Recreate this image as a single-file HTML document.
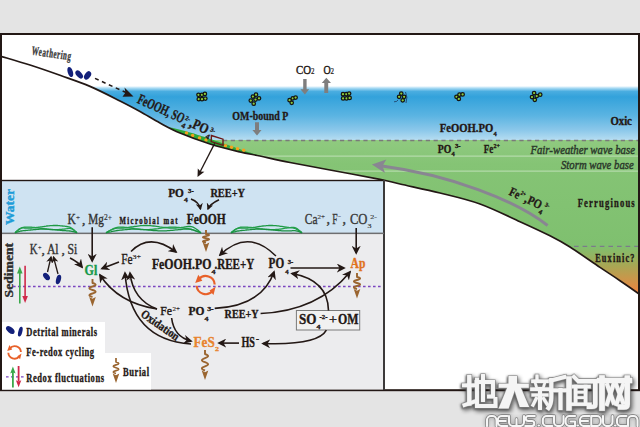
<!DOCTYPE html>
<html><head><meta charset="utf-8"><title>Diagram</title>
<style>html,body{margin:0;padding:0;background:#e4e4e4;width:640px;height:427px;overflow:hidden}svg{display:block}</style>
</head><body><svg width="640" height="427" viewBox="0 0 640 427" font-family='"Liberation Serif", serif'><defs>
<linearGradient id="water" x1="0" y1="86" x2="0" y2="140" gradientUnits="userSpaceOnUse">
<stop offset="0" stop-color="#ffffff"/>
<stop offset="0.04" stop-color="#a8daf3"/>
<stop offset="0.1" stop-color="#4aade0"/>
<stop offset="0.2" stop-color="#33a2db"/>
<stop offset="0.55" stop-color="#5bb4e2"/>
<stop offset="0.82" stop-color="#8cc8ea"/>
<stop offset="1" stop-color="#b6ddf1"/>
</linearGradient>
<linearGradient id="green" x1="0" y1="140" x2="0" y2="296" gradientUnits="userSpaceOnUse">
<stop offset="0" stop-color="#90ca80"/>
<stop offset="0.15" stop-color="#85c475"/>
<stop offset="0.68" stop-color="#7fc06f"/>
<stop offset="0.8" stop-color="#a6a855"/>
<stop offset="0.975" stop-color="#ec8540"/>
</linearGradient>
<marker id="ah" viewBox="0 0 10 10" refX="8" refY="5" markerWidth="7" markerHeight="7" markerUnits="userSpaceOnUse" orient="auto"><path d="M0,0 L10,5 L0,10 L3,5 z" fill="#231815"/></marker>
<marker id="ahb" viewBox="0 0 10 10" refX="8" refY="5" markerWidth="9" markerHeight="9" markerUnits="userSpaceOnUse" orient="auto"><path d="M0,0 L10,5 L0,10 L3,5 z" fill="#231815"/></marker>
<g id="cell"><circle r="1.6" fill="#a6d13a" stroke="#1a1a1a" stroke-width="0.9"/></g>
</defs>
<rect x="0" y="0" width="640" height="427" fill="#e4e4e4"/>
<rect x="0" y="33" width="640" height="358" fill="#ffffff"/>
<clipPath id="above"><path d="M-2,55.5 C-1.7,55.6 -5.3,54.4 0,56 C5.3,57.6 20.0,61.8 30,65 C40.0,68.2 50.0,71.7 60,75.3 C70.0,78.9 80.0,82.1 90,86.4 C100.0,90.7 111.7,96.8 120,101 C128.3,105.2 133.3,107.8 140,111.5 C146.7,115.2 153.3,119.4 160,123 C166.7,126.6 171.7,129.5 180,133 C188.3,136.5 200.0,140.8 210,144 C220.0,147.2 231.7,150.0 240,152 C248.3,154.0 251.7,154.2 260,156 C268.3,157.8 278.3,160.2 290,162.5 C301.7,164.8 315.0,167.2 330,170 C345.0,172.8 368.3,177.0 380,179.3 C391.7,181.6 390.0,181.7 400,184 C410.0,186.3 426.7,189.7 440,193 C453.3,196.3 466.7,199.2 480,204 C493.3,208.8 508.3,216.4 520,221.7 C531.7,227.0 541.7,231.6 550,235.8 C558.3,240.0 561.7,241.7 570,247 C578.3,252.3 591.7,261.8 600,267.4 C608.3,273.0 613.0,275.9 620,280.7 C627.0,285.5 638.3,293.4 642,296 L642,-10 L-2,-10 Z"/></clipPath>
<g clip-path="url(#above)">
<rect x="0" y="86" width="640" height="54" fill="url(#water)"/>
<rect x="0" y="140" width="640" height="160" fill="url(#green)"/>
<rect x="0" y="155.6" width="640" height="1" fill="#bfe0b6"/>
<rect x="0" y="170.6" width="640" height="1" fill="#bfe0b6"/>
</g>
<path d="M168,127.3 L170,127.4 L172,127.8 L174,128.3 L176,128.8 L178,129.3 L180,129.7 L182,130.3 L184,130.8 L186,131.3 L188,131.9 L190,132.4 L192,133.0 L194,133.6 L196,134.2 L198,134.9 L200,135.5 L202,136.2 L204,136.8 L206,137.5 L208,138.2 L210,138.9 L212,139.5 L214,140.2 L216,140.9 L218,141.6 L220,142.3 L222,143.0 L224,143.7 L226,144.3 L228,145.0 L230,145.7 L232,146.4 L234,147.1 L236,147.9 L238,148.6 L240,149.3 L242,150.0 L244,150.7 L246,151.4 L248,152.0 L250,152.6 L252,153.3 L254,153.9 L256,154.5 L258,155.2 L260,155.9 L260,156.0 L258,155.6 L256,155.2 L254,154.8 L252,154.5 L250,154.1 L248,153.7 L246,153.3 L244,152.9 L242,152.5 L240,152.0 L238,151.5 L236,151.0 L234,150.5 L232,150.1 L230,149.6 L228,149.0 L226,148.5 L224,148.0 L222,147.5 L220,146.9 L218,146.4 L216,145.8 L214,145.2 L212,144.6 L210,144.0 L208,143.4 L206,142.7 L204,142.0 L202,141.3 L200,140.6 L198,139.9 L196,139.2 L194,138.5 L192,137.7 L190,137.0 L188,136.2 L186,135.4 L184,134.6 L182,133.8 L180,133.0 L178,132.1 L176,131.3 L174,130.3 L172,129.4 L170,128.4 L168,127.3 Z" fill="#2ea83a"/>
<circle cx="186.5" cy="133.0" r="1.75" fill="#f5a01e"/>
<circle cx="192.6" cy="135.4" r="1.75" fill="#f5a01e"/>
<circle cx="199.5" cy="137.9" r="1.75" fill="#f5a01e"/>
<circle cx="206" cy="140.1" r="1.75" fill="#f5a01e"/>
<circle cx="225.5" cy="145.8" r="1.75" fill="#f5a01e"/>
<circle cx="231.5" cy="147.3" r="1.75" fill="#f5a01e"/>
<circle cx="237.5" cy="148.8" r="1.75" fill="#f5a01e"/>
<circle cx="243.7" cy="150.2" r="1.75" fill="#f5a01e"/>
<line x1="223" y1="140.5" x2="638" y2="140.5" stroke="#7a7a7a" stroke-width="1.3" stroke-dasharray="4.2,3.6"/>
<line x1="574" y1="246.3" x2="638" y2="246.3" stroke="#7b7b8a" stroke-width="1.2" stroke-dasharray="4.6,4"/>
<path d="M-2,55.5 C-1.7,55.6 -5.3,54.4 0,56 C5.3,57.6 20.0,61.8 30,65 C40.0,68.2 50.0,71.7 60,75.3 C70.0,78.9 80.0,82.1 90,86.4 C100.0,90.7 111.7,96.8 120,101 C128.3,105.2 133.3,107.8 140,111.5 C146.7,115.2 153.3,119.4 160,123 C166.7,126.6 171.7,129.5 180,133 C188.3,136.5 200.0,140.8 210,144 C220.0,147.2 231.7,150.0 240,152 C248.3,154.0 251.7,154.2 260,156 C268.3,157.8 278.3,160.2 290,162.5 C301.7,164.8 315.0,167.2 330,170 C345.0,172.8 368.3,177.0 380,179.3 C391.7,181.6 390.0,181.7 400,184 C410.0,186.3 426.7,189.7 440,193 C453.3,196.3 466.7,199.2 480,204 C493.3,208.8 508.3,216.4 520,221.7 C531.7,227.0 541.7,231.6 550,235.8 C558.3,240.0 561.7,241.7 570,247 C578.3,252.3 591.7,261.8 600,267.4 C608.3,273.0 613.0,275.9 620,280.7 C627.0,285.5 638.3,293.4 642,296" fill="none" stroke="#231815" stroke-width="1.7"/>
<rect x="0" y="33" width="640" height="2" fill="#231815"/>
<rect x="0" y="33" width="2" height="358" fill="#231815"/>
<rect x="638" y="33" width="2" height="358" fill="#231815"/>
<rect x="0" y="389.2" width="640" height="2" fill="#231815"/>
<g transform="rotate(8.2 31.3 54.6)"><g transform="translate(31.3,54.6) scale(0.56,1)"><text x="0" y="0" font-size="12.5" font-weight="bold" fill="#3a3a3a" stroke="#3a3a3a" stroke-width="0.35" textLength="70.54" lengthAdjust="spacing">Weathering</text></g></g>
<ellipse cx="70.3" cy="72" rx="2.6" ry="5.3" transform="rotate(-18 70.3 72)" fill="#13207a"/>
<ellipse cx="79.2" cy="74.5" rx="2.7" ry="4.8" transform="rotate(-42 79.2 74.5)" fill="#13207a"/>
<ellipse cx="87.6" cy="75.4" rx="2.9" ry="4.6" transform="rotate(35 87.6 75.4)" fill="#13207a"/>
<line x1="95" y1="78.4" x2="126" y2="92.5" stroke="#231815" stroke-width="1.5" stroke-dasharray="4,3.6"/>
<path d="M133.5,96.5 L122.5,96.8 L125.5,92.5 L124.5,87.5 Z" fill="#231815"/>
<g transform="rotate(24.5 136.5 102.5)"><text x="136.5" y="102.5" font-size="14.5" font-weight="bold" fill="#231815" textLength="50" lengthAdjust="spacingAndGlyphs" text-anchor="start"  stroke="#231815" stroke-width="0.35">FeOOH, SO</text><text x="187" y="106.5" font-size="7" font-weight="bold" fill="#231815" textLength="3.8" lengthAdjust="spacingAndGlyphs" text-anchor="start"  stroke="#231815" stroke-width="0.3">4</text><text x="187.5" y="98" font-size="6.5" font-weight="bold" fill="#231815" textLength="5" lengthAdjust="spacingAndGlyphs" text-anchor="start"  stroke="#231815" stroke-width="0.3">2-</text><text x="193.5" y="102.5" font-size="14.5" font-weight="bold" fill="#231815" text-anchor="start"  stroke="#231815" stroke-width="0.35">,</text><text x="197" y="102.5" font-size="14.5" font-weight="bold" fill="#231815" textLength="16" lengthAdjust="spacingAndGlyphs" text-anchor="start"  stroke="#231815" stroke-width="0.35">PO</text><text x="213.5" y="106.5" font-size="7" font-weight="bold" fill="#231815" textLength="3.8" lengthAdjust="spacingAndGlyphs" text-anchor="start"  stroke="#231815" stroke-width="0.3">4</text><text x="215" y="98" font-size="6.5" font-weight="bold" fill="#231815" textLength="5" lengthAdjust="spacingAndGlyphs" text-anchor="start"  stroke="#231815" stroke-width="0.3">3-</text></g>
<circle cx="198.5" cy="94.75" r="1.75" fill="#8ccd3c" stroke="#141414" stroke-width="1.25"/><circle cx="201.9" cy="94.75" r="1.75" fill="#8ccd3c" stroke="#141414" stroke-width="1.25"/><circle cx="204.9" cy="93.9" r="1.75" fill="#8ccd3c" stroke="#141414" stroke-width="1.25"/><circle cx="198.8" cy="99.2" r="1.75" fill="#8ccd3c" stroke="#141414" stroke-width="1.25"/><circle cx="202" cy="99.2" r="1.75" fill="#8ccd3c" stroke="#141414" stroke-width="1.25"/><circle cx="205.3" cy="98.6" r="1.75" fill="#8ccd3c" stroke="#141414" stroke-width="1.25"/>
<circle cx="256" cy="94.7" r="1.75" fill="#8ccd3c" stroke="#141414" stroke-width="1.25"/><circle cx="252.9" cy="96.5" r="1.75" fill="#8ccd3c" stroke="#141414" stroke-width="1.25"/><circle cx="259" cy="98.3" r="1.75" fill="#8ccd3c" stroke="#141414" stroke-width="1.25"/><circle cx="255.5" cy="99.6" r="1.75" fill="#8ccd3c" stroke="#141414" stroke-width="1.25"/><circle cx="250.8" cy="100.6" r="1.75" fill="#8ccd3c" stroke="#141414" stroke-width="1.25"/><circle cx="253.7" cy="103.7" r="1.75" fill="#8ccd3c" stroke="#141414" stroke-width="1.25"/>
<circle cx="289.6" cy="100.2" r="1.75" fill="#8ccd3c" stroke="#141414" stroke-width="1.25"/><circle cx="292.8" cy="98.3" r="1.75" fill="#8ccd3c" stroke="#141414" stroke-width="1.25"/><circle cx="295.6" cy="97.6" r="1.75" fill="#8ccd3c" stroke="#141414" stroke-width="1.25"/><circle cx="291.7" cy="102.75" r="1.75" fill="#8ccd3c" stroke="#141414" stroke-width="1.25"/>
<circle cx="343" cy="94.2" r="1.75" fill="#8ccd3c" stroke="#141414" stroke-width="1.25"/><circle cx="346.3" cy="94.2" r="1.75" fill="#8ccd3c" stroke="#141414" stroke-width="1.25"/><circle cx="349.1" cy="93.5" r="1.75" fill="#8ccd3c" stroke="#141414" stroke-width="1.25"/><circle cx="343.1" cy="98.4" r="1.75" fill="#8ccd3c" stroke="#141414" stroke-width="1.25"/><circle cx="346.5" cy="98.4" r="1.75" fill="#8ccd3c" stroke="#141414" stroke-width="1.25"/><circle cx="349.6" cy="97.9" r="1.75" fill="#8ccd3c" stroke="#141414" stroke-width="1.25"/>
<circle cx="401.25" cy="93.5" r="1.75" fill="#8ccd3c" stroke="#141414" stroke-width="1.25"/><circle cx="399.1" cy="96.8" r="1.75" fill="#8ccd3c" stroke="#141414" stroke-width="1.25"/><circle cx="404.1" cy="96.8" r="1.75" fill="#8ccd3c" stroke="#141414" stroke-width="1.25"/><circle cx="402.7" cy="100.3" r="1.75" fill="#8ccd3c" stroke="#141414" stroke-width="1.25"/>
<path d="M394,101.8 Q397,102 398,100 M405.5,92 Q408,97 406,103" fill="none" stroke="#1a2a4a" stroke-width="0.7"/>
<circle cx="456.5" cy="96.8" r="1.75" fill="#8ccd3c" stroke="#141414" stroke-width="1.25"/><circle cx="459.5" cy="94.7" r="1.75" fill="#8ccd3c" stroke="#141414" stroke-width="1.25"/><circle cx="462.6" cy="94.4" r="1.75" fill="#8ccd3c" stroke="#141414" stroke-width="1.25"/><circle cx="458.8" cy="98.9" r="1.75" fill="#8ccd3c" stroke="#141414" stroke-width="1.25"/>
<circle cx="534.1" cy="93" r="1.75" fill="#8ccd3c" stroke="#141414" stroke-width="1.25"/><circle cx="532" cy="97" r="1.75" fill="#8ccd3c" stroke="#141414" stroke-width="1.25"/><circle cx="536.7" cy="96.1" r="1.75" fill="#8ccd3c" stroke="#141414" stroke-width="1.25"/><circle cx="540.2" cy="94.7" r="1.75" fill="#8ccd3c" stroke="#141414" stroke-width="1.25"/><circle cx="534.8" cy="99.8" r="1.75" fill="#8ccd3c" stroke="#141414" stroke-width="1.25"/>
<text x="296" y="73.8" font-size="13" font-weight="normal" fill="#231815" textLength="15" lengthAdjust="spacingAndGlyphs" text-anchor="start"  stroke="#231815" stroke-width="0.4">CO</text>
<text x="311" y="74.2" font-size="7.5" font-weight="normal" fill="#231815" textLength="3.5" lengthAdjust="spacingAndGlyphs" text-anchor="start"  stroke="#231815" stroke-width="0.15">2</text>
<text x="323.4" y="73.8" font-size="13" font-weight="normal" fill="#231815" textLength="7.2" lengthAdjust="spacingAndGlyphs" text-anchor="start"  stroke="#231815" stroke-width="0.4">O</text>
<text x="330.6" y="74.2" font-size="7.5" font-weight="normal" fill="#231815" textLength="3.5" lengthAdjust="spacingAndGlyphs" text-anchor="start"  stroke="#231815" stroke-width="0.15">2</text>
<path d="M303.2,79 L306.6,79 L306.6,89.3 L309.2,89.3 L304.9,94.4 L300.4,89.3 L303.2,89.3 Z" fill="#7e7e7e"/>
<path d="M326.3,77.8 L331,83.1 L328.2,83.1 L328.2,93 L324.3,93 L324.3,83.1 L321.8,83.1 Z" fill="#7e7e7e"/>
<text x="232.3" y="119.7" font-size="13" font-weight="bold" fill="#231815" textLength="56" lengthAdjust="spacingAndGlyphs" text-anchor="start"  stroke="#231815" stroke-width="0.35">OM-bound P</text>
<path d="M255,122.3 L259,122.3 L259,130 L261.5,130 L257,135.5 L252.4,130 L255,130 Z" fill="#7e7e7e"/>
<path d="M211.4,135.5 L223,139.2 L223,145.3 L211.2,141.6 Z" fill="none" stroke="#6b1818" stroke-width="1.4"/>
<line x1="214.7" y1="143.4" x2="200" y2="172" stroke="#231815" stroke-width="1.3"/>
<path d="M197.5,177 L197.8,168.6 L200.5,171.5 L204.4,171.8 Z" fill="#231815"/>
<text x="439.75" y="131.6" font-size="12.2" font-weight="bold" fill="#231815" textLength="53.4" lengthAdjust="spacingAndGlyphs" text-anchor="start"  stroke="#231815" stroke-width="0.35">FeOOH.PO</text>
<text x="493.5" y="135.6" font-size="6.5" font-weight="bold" fill="#231815" text-anchor="start"  stroke="#231815" stroke-width="0.3">4</text>
<text x="437.75" y="152.5" font-size="12.2" font-weight="bold" fill="#231815" textLength="13.5" lengthAdjust="spacingAndGlyphs" text-anchor="start"  stroke="#231815" stroke-width="0.35">PO</text>
<text x="451.5" y="156.2" font-size="6.5" font-weight="bold" fill="#231815" text-anchor="start"  stroke="#231815" stroke-width="0.3">4</text>
<text x="455" y="148" font-size="6" font-weight="bold" fill="#231815" textLength="5.6" lengthAdjust="spacingAndGlyphs" text-anchor="start"  stroke="#231815" stroke-width="0.3">3-</text>
<text x="483.75" y="152.5" font-size="12.2" font-weight="bold" fill="#231815" textLength="9.5" lengthAdjust="spacingAndGlyphs" text-anchor="start"  stroke="#231815" stroke-width="0.35">Fe</text>
<text x="493.5" y="148.2" font-size="6" font-weight="bold" fill="#231815" textLength="6.5" lengthAdjust="spacingAndGlyphs" text-anchor="start"  stroke="#231815" stroke-width="0.3">2+</text>
<text x="610.4" y="125.3" font-size="12.3" font-weight="bold" fill="#231815" textLength="21.5" lengthAdjust="spacingAndGlyphs" text-anchor="start"  stroke="#231815" stroke-width="0.35">Oxic</text>
<text x="530.4" y="154.2" font-size="13.2" font-weight="normal" fill="#2b382b" font-style="italic" textLength="104.6" lengthAdjust="spacingAndGlyphs" text-anchor="start"  stroke="#2b382b" stroke-width="0.45">Fair-weather wave base</text>
<text x="561" y="169.4" font-size="13.2" font-weight="normal" fill="#2b382b" font-style="italic" textLength="72.7" lengthAdjust="spacingAndGlyphs" text-anchor="start"  stroke="#2b382b" stroke-width="0.45">Storm wave base</text>
<g transform="translate(577.7,206.7) scale(0.7,1)"><text x="0" y="0" font-size="12.3" font-weight="bold" fill="#231815" stroke="#231815" stroke-width="0.35" textLength="81.43" lengthAdjust="spacing">Ferruginous</text></g>
<g transform="translate(595.2,261.8) scale(0.7,1)"><text x="0" y="0" font-size="11.8" font-weight="bold" fill="#231815" stroke="#231815" stroke-width="0.35" textLength="56.14" lengthAdjust="spacing">Euxinic?</text></g>
<path d="M547.6,225.5 C515,200 450,175 382,166" fill="none" stroke="#898592" stroke-width="2.9"/>
<path d="M371.9,164.4 L386.3,159.4 L382.5,166 L385,173.1 Z" fill="#898592"/>
<g transform="rotate(25 508.3 194.6)"><text x="508.3" y="194.6" font-size="12.5" font-weight="bold" fill="#231815" textLength="10.5" lengthAdjust="spacingAndGlyphs" text-anchor="start"  stroke="#231815" stroke-width="0.35">Fe</text><text x="519" y="189.2" font-size="6" font-weight="bold" fill="#231815" textLength="5" lengthAdjust="spacingAndGlyphs" text-anchor="start"  stroke="#231815" stroke-width="0.3">2+</text><text x="525" y="194.6" font-size="12.5" font-weight="bold" fill="#231815" text-anchor="start"  stroke="#231815" stroke-width="0.35">,</text><text x="528.3" y="194.6" font-size="12.5" font-weight="bold" fill="#231815" textLength="14.6" lengthAdjust="spacingAndGlyphs" text-anchor="start"  stroke="#231815" stroke-width="0.35">PO</text><text x="543" y="199" font-size="6.5" font-weight="bold" fill="#231815" textLength="3.4" lengthAdjust="spacingAndGlyphs" text-anchor="start"  stroke="#231815" stroke-width="0.3">4</text><text x="546" y="189.5" font-size="6" font-weight="bold" fill="#231815" textLength="4.6" lengthAdjust="spacingAndGlyphs" text-anchor="start"  stroke="#231815" stroke-width="0.3">3-</text></g>
<rect x="2" y="180.5" width="382" height="53" fill="#cfe3f2"/>
<rect x="2" y="233.5" width="382" height="156" fill="#ececee"/>
<rect x="0" y="179.8" width="384" height="1.4" fill="#231815"/>
<rect x="383" y="180" width="2" height="210" fill="#3c3a3a"/>
<rect x="2" y="232.6" width="382" height="1.5" fill="#6e6e70"/>
<polyline points="15.0,232.8 16.0,231.7 17.1,230.7 18.1,229.9 19.1,229.1 20.2,228.6 21.2,228.2 22.2,227.9 23.3,227.9 24.3,228.0 25.3,228.0 26.4,228.1 27.4,228.1 28.4,228.1 29.5,228.1 30.5,228.1 31.5,228.0 32.6,227.9 33.6,227.9 34.6,227.8 35.7,227.6 36.7,227.5 37.7,227.4 38.8,227.2 39.8,227.1 40.8,226.9 41.9,226.8 42.9,226.6 43.9,226.5 45.0,226.3 46.0,226.2 47.0,226.0 48.1,225.9 49.1,225.8 50.1,225.7 51.2,225.6 52.2,225.6 53.2,225.5 54.3,225.5 55.3,225.5 56.3,225.5 57.4,225.5 58.4,225.6 59.4,225.7 60.5,225.8 61.5,225.9 62.5,226.0 63.6,226.1 64.6,226.2 65.6,226.4 66.7,226.5 67.7,226.7 68.7,226.9 69.8,227.2 70.8,227.7 71.8,228.4 72.9,229.2 73.9,230.0 74.9,230.9 76.0,231.9 77.0,232.8" fill="none" stroke="#1e9a46" stroke-width="1.3"/><polyline points="15.0,232.8 16.0,232.0 17.1,231.1 18.1,230.2 19.1,229.4 20.2,228.7 21.2,228.1 22.2,227.6 23.3,227.3 24.3,227.2 25.3,227.2 26.4,227.1 27.4,227.1 28.4,227.1 29.5,227.1 30.5,227.1 31.5,227.2 32.6,227.3 33.6,227.3 34.6,227.4 35.7,227.6 36.7,227.7 37.7,227.8 38.8,228.0 39.8,228.1 40.8,228.3 41.9,228.4 42.9,228.6 43.9,228.7 45.0,228.9 46.0,229.0 47.0,229.2 48.1,229.3 49.1,229.4 50.1,229.5 51.2,229.6 52.2,229.6 53.2,229.7 54.3,229.7 55.3,229.7 56.3,229.7 57.4,229.7 58.4,229.6 59.4,229.5 60.5,229.4 61.5,229.3 62.5,229.2 63.6,229.1 64.6,229.0 65.6,228.8 66.7,228.7 67.7,228.5 68.7,228.4 69.8,228.4 70.8,228.5 71.8,228.9 72.9,229.4 73.9,230.0 74.9,230.9 76.0,231.8 77.0,232.8" fill="none" stroke="#23a04a" stroke-width="1.3"/><polyline points="15.0,232.8 16.0,232.4 17.1,232.1 18.1,231.8 19.1,231.5 20.2,231.2 21.2,231.0 22.2,230.8 23.3,230.7 24.3,230.6 25.3,230.5 26.4,230.4 27.4,230.3 28.4,230.2 29.5,230.1 30.5,230.0 31.5,229.9 32.6,229.8 33.6,229.7 34.6,229.6 35.7,229.5 36.7,229.4 37.7,229.3 38.8,229.3 39.8,229.2 40.8,229.2 41.9,229.1 42.9,229.1 43.9,229.1 45.0,229.1 46.0,229.1 47.0,229.2 48.1,229.2 49.1,229.3 50.1,229.3 51.2,229.4 52.2,229.5 53.2,229.6 54.3,229.7 55.3,229.8 56.3,229.9 57.4,230.0 58.4,230.1 59.4,230.2 60.5,230.3 61.5,230.4 62.5,230.5 63.6,230.6 64.6,230.7 65.6,230.7 66.7,230.8 67.7,230.8 68.7,230.9 69.8,231.0 70.8,231.1 71.8,231.3 72.9,231.5 73.9,231.8 74.9,232.1 76.0,232.4 77.0,232.8" fill="none" stroke="#1a9040" stroke-width="1.3"/>
<polyline points="106.0,232.8 107.6,231.7 109.2,230.8 110.8,230.0 112.3,229.3 113.9,228.8 115.5,228.4 117.1,228.2 118.7,228.1 120.2,228.1 121.8,228.0 123.4,228.0 125.0,227.8 126.6,227.7 128.2,227.5 129.8,227.2 131.3,227.0 132.9,226.8 134.5,226.5 136.1,226.3 137.7,226.1 139.2,225.9 140.8,225.7 142.4,225.6 144.0,225.5 145.6,225.5 147.2,225.5 148.8,225.6 150.3,225.7 151.9,225.8 153.5,226.0 155.1,226.2 156.7,226.4 158.2,226.6 159.8,226.9 161.4,227.1 163.0,227.3 164.6,227.5 166.2,227.7 167.8,227.9 169.3,228.0 170.9,228.1 172.5,228.1 174.1,228.1 175.7,228.0 177.2,227.9 178.8,227.8 180.4,227.6 182.0,227.4 183.6,227.2 185.2,226.9 186.8,226.7 188.3,226.5 189.9,226.5 191.5,226.7 193.1,227.2 194.7,228.0 196.2,229.0 197.8,230.1 199.4,231.4 201.0,232.8" fill="none" stroke="#1e9a46" stroke-width="1.3"/><polyline points="106.0,232.8 107.6,231.9 109.2,231.0 110.8,230.1 112.3,229.2 113.9,228.4 115.5,227.8 117.1,227.3 118.7,227.1 120.2,227.1 121.8,227.2 123.4,227.2 125.0,227.4 126.6,227.5 128.2,227.7 129.8,228.0 131.3,228.2 132.9,228.4 134.5,228.7 136.1,228.9 137.7,229.1 139.2,229.3 140.8,229.5 142.4,229.6 144.0,229.7 145.6,229.7 147.2,229.7 148.8,229.6 150.3,229.5 151.9,229.4 153.5,229.2 155.1,229.0 156.7,228.8 158.2,228.6 159.8,228.3 161.4,228.1 163.0,227.9 164.6,227.7 166.2,227.5 167.8,227.3 169.3,227.2 170.9,227.1 172.5,227.1 174.1,227.1 175.7,227.2 177.2,227.3 178.8,227.4 180.4,227.6 182.0,227.8 183.6,228.0 185.2,228.3 186.8,228.5 188.3,228.7 189.9,229.1 191.5,229.5 193.1,230.0 194.7,230.6 196.2,231.1 197.8,231.7 199.4,232.2 201.0,232.8" fill="none" stroke="#23a04a" stroke-width="1.3"/><polyline points="106.0,232.8 107.6,232.4 109.2,232.1 110.8,231.8 112.3,231.4 113.9,231.1 115.5,230.8 117.1,230.5 118.7,230.3 120.2,230.1 121.8,230.0 123.4,229.8 125.0,229.7 126.6,229.5 128.2,229.4 129.8,229.3 131.3,229.2 132.9,229.1 134.5,229.1 136.1,229.1 137.7,229.1 139.2,229.2 140.8,229.3 142.4,229.4 144.0,229.6 145.6,229.7 147.2,229.9 148.8,230.0 150.3,230.2 151.9,230.4 153.5,230.5 155.1,230.6 156.7,230.7 158.2,230.8 159.8,230.9 161.4,230.9 163.0,230.9 164.6,230.8 166.2,230.8 167.8,230.7 169.3,230.6 170.9,230.4 172.5,230.3 174.1,230.1 175.7,229.9 177.2,229.8 178.8,229.6 180.4,229.5 182.0,229.3 183.6,229.2 185.2,229.2 186.8,229.1 188.3,229.1 189.9,229.2 191.5,229.5 193.1,229.9 194.7,230.4 196.2,231.0 197.8,231.6 199.4,232.2 201.0,232.8" fill="none" stroke="#1a9040" stroke-width="1.3"/>
<polyline points="231.0,232.8 232.2,231.7 233.4,230.7 234.6,229.9 235.7,229.2 236.9,228.6 238.1,228.3 239.3,228.0 240.5,228.0 241.7,228.0 242.8,228.1 244.0,228.1 245.2,228.1 246.4,228.1 247.6,228.0 248.8,227.9 249.9,227.8 251.1,227.7 252.3,227.6 253.5,227.4 254.7,227.3 255.8,227.1 257.0,226.9 258.2,226.7 259.4,226.5 260.6,226.4 261.8,226.2 262.9,226.0 264.1,225.9 265.3,225.8 266.5,225.7 267.7,225.6 268.9,225.5 270.1,225.5 271.2,225.5 272.4,225.5 273.6,225.6 274.8,225.6 276.0,225.7 277.1,225.8 278.3,225.9 279.5,226.1 280.7,226.3 281.9,226.4 283.1,226.6 284.2,226.8 285.4,227.0 286.6,227.1 287.8,227.3 289.0,227.5 290.2,227.6 291.4,227.7 292.5,227.9 293.7,228.1 294.9,228.5 296.1,229.0 297.3,229.6 298.4,230.3 299.6,231.1 300.8,231.9 302.0,232.8" fill="none" stroke="#1e9a46" stroke-width="1.3"/><polyline points="231.0,232.8 232.2,231.9 233.4,231.1 234.6,230.2 235.7,229.3 236.9,228.6 238.1,228.0 239.3,227.5 240.5,227.2 241.7,227.2 242.8,227.1 244.0,227.1 245.2,227.1 246.4,227.1 247.6,227.2 248.8,227.3 249.9,227.4 251.1,227.5 252.3,227.6 253.5,227.8 254.7,227.9 255.8,228.1 257.0,228.3 258.2,228.5 259.4,228.7 260.6,228.8 261.8,229.0 262.9,229.2 264.1,229.3 265.3,229.4 266.5,229.5 267.7,229.6 268.9,229.7 270.1,229.7 271.2,229.7 272.4,229.7 273.6,229.6 274.8,229.6 276.0,229.5 277.1,229.4 278.3,229.3 279.5,229.1 280.7,229.0 281.9,228.8 283.1,228.6 284.2,228.4 285.4,228.2 286.6,228.1 287.8,227.9 289.0,227.7 290.2,227.6 291.4,227.5 292.5,227.4 293.7,227.4 294.9,227.7 296.1,228.2 297.3,228.9 298.4,229.8 299.6,230.7 300.8,231.8 302.0,232.8" fill="none" stroke="#23a04a" stroke-width="1.3"/><polyline points="231.0,232.8 232.2,232.4 233.4,232.1 234.6,231.8 235.7,231.5 236.9,231.2 238.1,231.0 239.3,230.8 240.5,230.6 241.7,230.5 242.8,230.4 244.0,230.3 245.2,230.2 246.4,230.0 247.6,229.9 248.8,229.8 249.9,229.7 251.1,229.5 252.3,229.4 253.5,229.4 254.7,229.3 255.8,229.2 257.0,229.2 258.2,229.1 259.4,229.1 260.6,229.1 261.8,229.1 262.9,229.2 264.1,229.2 265.3,229.3 266.5,229.4 267.7,229.4 268.9,229.5 270.1,229.7 271.2,229.8 272.4,229.9 273.6,230.0 274.8,230.2 276.0,230.3 277.1,230.4 278.3,230.5 279.5,230.6 280.7,230.7 281.9,230.8 283.1,230.8 284.2,230.9 285.4,230.9 286.6,230.9 287.8,230.9 289.0,230.9 290.2,230.8 291.4,230.8 292.5,230.7 293.7,230.7 294.9,230.7 296.1,230.9 297.3,231.1 298.4,231.4 299.6,231.8 300.8,232.3 302.0,232.8" fill="none" stroke="#1a9040" stroke-width="1.3"/>
<g transform="rotate(-90 13.6 225)"><text x="13.6" y="225" font-size="12" font-weight="bold" fill="#1e9cd8" textLength="36" lengthAdjust="spacingAndGlyphs" text-anchor="start"  stroke="#1e9cd8" stroke-width="0.35">Water</text></g>
<g transform="rotate(-90 12.6 297.4)"><text x="12.6" y="297.4" font-size="11.5" font-weight="bold" fill="#2d2d2d" textLength="54.5" lengthAdjust="spacingAndGlyphs" text-anchor="start"  stroke="#2d2d2d" stroke-width="0.35">Sediment</text></g>
<text x="67.5" y="224.1" font-size="15" font-weight="normal" fill="#333" textLength="8.3" lengthAdjust="spacingAndGlyphs" text-anchor="start"  stroke="#333" stroke-width="0.4">K</text>
<text x="76" y="219.5" font-size="7" font-weight="normal" fill="#333" textLength="4" lengthAdjust="spacingAndGlyphs" text-anchor="start"  stroke="#333" stroke-width="0.15">+</text>
<text x="82" y="224.1" font-size="13.5" font-weight="normal" fill="#333" text-anchor="start"  stroke="#333" stroke-width="0.4">,</text>
<text x="88.3" y="224.1" font-size="15" font-weight="normal" fill="#333" textLength="15.6" lengthAdjust="spacingAndGlyphs" text-anchor="start"  stroke="#333" stroke-width="0.4">Mg</text>
<text x="104" y="219.8" font-size="7.5" font-weight="normal" fill="#333" textLength="8" lengthAdjust="spacingAndGlyphs" text-anchor="start"  stroke="#333" stroke-width="0.15">2+</text>
<g transform="translate(119.5,223.5) scale(0.7,1)"><text x="0" y="0" font-size="9.7" font-weight="bold" fill="#231815" stroke="#231815" stroke-width="0.35" textLength="82.86" lengthAdjust="spacing">Microbial mat</text></g>
<text x="168.2" y="196.6" font-size="12.4" font-weight="bold" fill="#231815" textLength="15.7" lengthAdjust="spacingAndGlyphs" text-anchor="start"  stroke="#231815" stroke-width="0.35">PO</text>
<text x="184" y="202.2" font-size="6.5" font-weight="bold" fill="#231815" textLength="3.8" lengthAdjust="spacingAndGlyphs" text-anchor="start"  stroke="#231815" stroke-width="0.3">4</text>
<text x="188.1" y="192.9" font-size="6" font-weight="bold" fill="#231815" textLength="5.6" lengthAdjust="spacingAndGlyphs" text-anchor="start"  stroke="#231815" stroke-width="0.3">3-</text>
<text x="210.4" y="196.6" font-size="12.4" font-weight="bold" fill="#231815" textLength="34.7" lengthAdjust="spacingAndGlyphs" text-anchor="start"  stroke="#231815" stroke-width="0.35">REE+Y</text>
<text x="186.7" y="224.3" font-size="13.7" font-weight="bold" fill="#231815" textLength="39.1" lengthAdjust="spacingAndGlyphs" text-anchor="start"  stroke="#231815" stroke-width="0.35">FeOOH</text>
<path d="M191,199 Q199,202 200.5,209" fill="none" stroke="#231815" stroke-width="1.6" marker-end="url(#ah)"/>
<path d="M219,199.7 Q210,204 208,209" fill="none" stroke="#231815" stroke-width="1.6" marker-end="url(#ah)"/>
<text x="304.8" y="224" font-size="15.6" font-weight="normal" fill="#3a3a3a" textLength="12.7" lengthAdjust="spacingAndGlyphs" text-anchor="start"  stroke="#3a3a3a" stroke-width="0.4">Ca</text>
<text x="317.5" y="219.3" font-size="6.5" font-weight="normal" fill="#3a3a3a" textLength="7.5" lengthAdjust="spacingAndGlyphs" text-anchor="start"  stroke="#3a3a3a" stroke-width="0.15">2+</text>
<text x="326.5" y="224" font-size="14" font-weight="normal" fill="#3a3a3a" text-anchor="start"  stroke="#3a3a3a" stroke-width="0.4">,</text>
<text x="332.3" y="224" font-size="15.6" font-weight="normal" fill="#3a3a3a" textLength="5.3" lengthAdjust="spacingAndGlyphs" text-anchor="start"  stroke="#3a3a3a" stroke-width="0.4">F</text>
<text x="338" y="218.3" font-size="7" font-weight="normal" fill="#3a3a3a" textLength="3" lengthAdjust="spacingAndGlyphs" text-anchor="start"  stroke="#3a3a3a" stroke-width="0.15">-</text>
<text x="342.5" y="224" font-size="14" font-weight="normal" fill="#3a3a3a" text-anchor="start"  stroke="#3a3a3a" stroke-width="0.4">,</text>
<text x="349.9" y="224" font-size="15.6" font-weight="normal" fill="#3a3a3a" textLength="17.5" lengthAdjust="spacingAndGlyphs" text-anchor="start"  stroke="#3a3a3a" stroke-width="0.4">CO</text>
<text x="367.5" y="228.2" font-size="7" font-weight="normal" fill="#3a3a3a" textLength="4" lengthAdjust="spacingAndGlyphs" text-anchor="start"  stroke="#3a3a3a" stroke-width="0.15">3</text>
<text x="370.2" y="219.3" font-size="6.5" font-weight="normal" fill="#3a3a3a" textLength="6.7" lengthAdjust="spacingAndGlyphs" text-anchor="start"  stroke="#3a3a3a" stroke-width="0.15">2-</text>
<text x="29.7" y="254.2" font-size="15" font-weight="normal" fill="#333" textLength="7.8" lengthAdjust="spacingAndGlyphs" text-anchor="start"  stroke="#333" stroke-width="0.4">K</text>
<text x="38" y="249.5" font-size="7" font-weight="normal" fill="#333" textLength="3.5" lengthAdjust="spacingAndGlyphs" text-anchor="start"  stroke="#333" stroke-width="0.15">+</text>
<text x="41.5" y="254.2" font-size="13.5" font-weight="normal" fill="#333" text-anchor="start"  stroke="#333" stroke-width="0.4">,</text>
<text x="46.9" y="254.2" font-size="15" font-weight="normal" fill="#333" textLength="11.7" lengthAdjust="spacingAndGlyphs" text-anchor="start"  stroke="#333" stroke-width="0.4">Al</text>
<text x="61.5" y="254.2" font-size="13.5" font-weight="normal" fill="#333" text-anchor="start"  stroke="#333" stroke-width="0.4">,</text>
<text x="67.5" y="254.2" font-size="15" font-weight="normal" fill="#333" textLength="9.8" lengthAdjust="spacingAndGlyphs" text-anchor="start"  stroke="#333" stroke-width="0.4">Si</text>
<text x="84.6" y="275" font-size="14.2" font-weight="bold" fill="#17994a" textLength="12.7" lengthAdjust="spacingAndGlyphs" text-anchor="start"  stroke="#17994a" stroke-width="0.35">Gl</text>
<text x="121.25" y="263.75" font-size="15" font-weight="normal" fill="#231815" textLength="11.3" lengthAdjust="spacingAndGlyphs" text-anchor="start"  stroke="#231815" stroke-width="0.4">Fe</text>
<text x="132.5" y="259.3" font-size="7" font-weight="normal" fill="#231815" textLength="8.5" lengthAdjust="spacingAndGlyphs" text-anchor="start"  stroke="#231815" stroke-width="0.15">3+</text>
<text x="151.9" y="268.75" font-size="14.3" font-weight="bold" fill="#231815" textLength="59.5" lengthAdjust="spacingAndGlyphs" text-anchor="start"  stroke="#231815" stroke-width="0.35">FeOOH.PO</text>
<text x="211.5" y="274" font-size="7" font-weight="bold" fill="#231815" textLength="4" lengthAdjust="spacingAndGlyphs" text-anchor="start"  stroke="#231815" stroke-width="0.3">4</text>
<text x="214.4" y="268.75" font-size="14.3" font-weight="bold" fill="#231815" textLength="39.9" lengthAdjust="spacingAndGlyphs" text-anchor="start"  stroke="#231815" stroke-width="0.35">.REE+Y</text>
<text x="268.6" y="268.4" font-size="14.3" font-weight="bold" fill="#231815" textLength="15.6" lengthAdjust="spacingAndGlyphs" text-anchor="start"  stroke="#231815" stroke-width="0.35">PO</text>
<text x="285.2" y="273.6" font-size="7" font-weight="bold" fill="#231815" textLength="3.4" lengthAdjust="spacingAndGlyphs" text-anchor="start"  stroke="#231815" stroke-width="0.3">4</text>
<text x="287.8" y="264" font-size="6" font-weight="bold" fill="#231815" textLength="5.4" lengthAdjust="spacingAndGlyphs" text-anchor="start"  stroke="#231815" stroke-width="0.3">3-</text>
<text x="350.6" y="268" font-size="14" font-weight="bold" fill="#e0731f" textLength="14.8" lengthAdjust="spacingAndGlyphs" text-anchor="start"  stroke="#e0731f" stroke-width="0.35">Ap</text>
<text x="160.3" y="315" font-size="13.5" font-weight="normal" fill="#231815" textLength="11.8" lengthAdjust="spacingAndGlyphs" text-anchor="start"  stroke="#231815" stroke-width="0.4">Fe</text>
<text x="172.5" y="311.2" font-size="7" font-weight="normal" fill="#231815" textLength="7.5" lengthAdjust="spacingAndGlyphs" text-anchor="start"  stroke="#231815" stroke-width="0.15">2+</text>
<text x="188.4" y="315" font-size="13" font-weight="bold" fill="#231815" textLength="16" lengthAdjust="spacingAndGlyphs" text-anchor="start"  stroke="#231815" stroke-width="0.35">PO</text>
<text x="204.5" y="321" font-size="7" font-weight="bold" fill="#231815" textLength="4" lengthAdjust="spacingAndGlyphs" text-anchor="start"  stroke="#231815" stroke-width="0.3">4</text>
<text x="207.2" y="311.2" font-size="6.5" font-weight="bold" fill="#231815" textLength="6.5" lengthAdjust="spacingAndGlyphs" text-anchor="start"  stroke="#231815" stroke-width="0.3">3-</text>
<text x="224.6" y="318.4" font-size="12.4" font-weight="bold" fill="#231815" textLength="34.1" lengthAdjust="spacingAndGlyphs" text-anchor="start"  stroke="#231815" stroke-width="0.35">REE+Y</text>
<text x="193.5" y="346.9" font-size="14.8" font-weight="bold" fill="#e8842e" textLength="21.2" lengthAdjust="spacingAndGlyphs" text-anchor="start"  stroke="#e8842e" stroke-width="0.35">FeS</text>
<text x="215" y="351" font-size="7" font-weight="bold" fill="#e8842e" textLength="4" lengthAdjust="spacingAndGlyphs" text-anchor="start"  stroke="#e8842e" stroke-width="0.3">2</text>
<text x="241.5" y="347" font-size="14.5" font-weight="bold" fill="#231815" textLength="13.5" lengthAdjust="spacingAndGlyphs" text-anchor="start"  stroke="#231815" stroke-width="0.35">HS</text>
<text x="256" y="341" font-size="7" font-weight="bold" fill="#231815" textLength="3" lengthAdjust="spacingAndGlyphs" text-anchor="start"  stroke="#231815" stroke-width="0.3">-</text>
<rect x="296.4" y="310.5" width="63.3" height="19.5" fill="#f1f1f1" stroke="#7a7a7a" stroke-width="1"/>
<text x="299" y="323.8" font-size="14.3" font-weight="bold" fill="#231815" textLength="17.5" lengthAdjust="spacingAndGlyphs" text-anchor="start"  stroke="#231815" stroke-width="0.35">SO</text>
<text x="316.5" y="328.5" font-size="7" font-weight="bold" fill="#231815" textLength="4" lengthAdjust="spacingAndGlyphs" text-anchor="start"  stroke="#231815" stroke-width="0.3">4</text>
<text x="319.5" y="318.5" font-size="6.5" font-weight="bold" fill="#231815" textLength="8" lengthAdjust="spacingAndGlyphs" text-anchor="start"  stroke="#231815" stroke-width="0.3">-2-</text>
<text x="329" y="323.8" font-size="13.5" font-weight="normal" fill="#231815" textLength="8" lengthAdjust="spacingAndGlyphs" text-anchor="start"  stroke="#231815" stroke-width="0.4">+</text>
<text x="338" y="323.8" font-size="14.3" font-weight="bold" fill="#231815" textLength="20.5" lengthAdjust="spacingAndGlyphs" text-anchor="start"  stroke="#231815" stroke-width="0.35">OM</text>
<g transform="rotate(35 140 315.8)"><text x="140" y="315.8" font-size="12" font-weight="bold" fill="#231815" textLength="44" lengthAdjust="spacingAndGlyphs" text-anchor="start"  stroke="#231815" stroke-width="0.35">Oxidation</text></g>
<line x1="13" y1="286.5" x2="383" y2="286.5" stroke="#7b45c0" stroke-width="1.3" stroke-dasharray="2.6,2.4"/>
<line x1="19.8" y1="271" x2="19.8" y2="303.5" stroke="#3aa84a" stroke-width="1.6"/><path d="M19.8,266.5 L22.6,273.5 L17,273.5 Z" fill="#3aa84a"/>
<line x1="25.1" y1="265.8" x2="25.1" y2="297.5" stroke="#d02849" stroke-width="1.6"/><path d="M25.1,303 L27.9,296 L22.3,296 Z" fill="#d02849"/>
<ellipse cx="46.5" cy="276.5" rx="2.6" ry="4.3" transform="rotate(-40 46.5 276.5)" fill="#13207a"/>
<ellipse cx="58.5" cy="279.5" rx="2.4" ry="4.8" transform="rotate(15 58.5 279.5)" fill="#13207a"/>
<path d="M47.5,272 L51,257" fill="none" stroke="#231815" stroke-width="1.3" marker-end="url(#ah)"/>
<path d="M58,274 L53.5,257" fill="none" stroke="#231815" stroke-width="1.3" marker-end="url(#ah)"/>
<path d="M92.2,227.2 L92.2,261" fill="none" stroke="#231815" stroke-width="1.6" marker-end="url(#ahb)"/>
<path d="M356.2,228 L356.2,253" fill="none" stroke="#231815" stroke-width="1.6" marker-end="url(#ahb)"/>
<path d="M70,258 Q78,262 82,267" fill="none" stroke="#231815" stroke-width="1.6" marker-end="url(#ahb)"/>
<path d="M119,262 L102,268.5" fill="none" stroke="#231815" stroke-width="1.6" marker-end="url(#ahb)"/>
<path d="M131,251.5 Q150,232 176,252" fill="none" stroke="#231815" stroke-width="1.6" marker-end="url(#ahb)"/>
<path d="M275.9,256 Q248,228 220,255" fill="none" stroke="#231815" stroke-width="1.6" marker-end="url(#ahb)"/>
<path d="M157,309 Q118,303 100,275" fill="none" stroke="#231815" stroke-width="1.6" marker-end="url(#ahb)"/>
<path d="M157,309 Q133,300 130,273" fill="none" stroke="#231815" stroke-width="1.6" marker-end="url(#ahb)"/>
<path d="M191,344 Q130,340 125,273" fill="none" stroke="#231815" stroke-width="1.6" marker-end="url(#ahb)"/>
<path d="M171.6,318 Q174,337 191,341" fill="none" stroke="#231815" stroke-width="1.6" marker-end="url(#ahb)"/>
<path d="M214.7,308.4 Q262,306 274,272" fill="none" stroke="#231815" stroke-width="1.6" marker-end="url(#ahb)"/>
<path d="M260.6,313.5 Q318,311 350,272" fill="none" stroke="#231815" stroke-width="1.6" marker-end="url(#ahb)"/>
<path d="M290.5,268 L344,268" fill="none" stroke="#231815" stroke-width="1.6" marker-end="url(#ahb)"/>
<path d="M328.5,310.5 Q328,280 292,273.5" fill="none" stroke="#231815" stroke-width="1.6" marker-end="url(#ahb)"/>
<path d="M326.4,330.2 Q318,345.5 263,343.5" fill="none" stroke="#231815" stroke-width="1.6" marker-end="url(#ahb)"/>
<path d="M239,343.1 L219,343.1" fill="none" stroke="#231815" stroke-width="1.6" marker-end="url(#ahb)"/>
<path d="M92.5,279 V283.0 Q98.7,284.8 92.5,286.5 Q86.3,288.2 92.5,290.0 Q98.7,291.8 92.5,293.5 Q86.3,295.2 92.5,297.0" fill="none" stroke="#9a6530" stroke-width="1.9" stroke-linejoin="round"/><path d="M89.2,297.0 L92.5,298.8 L95.8,297.0 L92.5,306.5 Z" fill="#9a6530"/>
<path d="M206,230 V234.0 Q212.2,235.1 206,236.1 Q199.8,237.2 206,238.2 Q212.2,239.3 206,240.4 Q199.8,241.4 206,242.5" fill="none" stroke="#9a6530" stroke-width="1.9" stroke-linejoin="round"/><path d="M202.7,242.5 L206,244.3 L209.3,242.5 L206,252 Z" fill="#9a6530"/>
<path d="M357,273 V277.0 Q363.2,278.5 357,280.0 Q350.8,281.5 357,283.0 Q363.2,284.5 357,286.0 Q350.8,287.5 357,289.0" fill="none" stroke="#9a6530" stroke-width="1.9" stroke-linejoin="round"/><path d="M353.7,289.0 L357,290.8 L360.3,289.0 L357,298.5 Z" fill="#9a6530"/>
<path d="M205,350 V354.0 Q211.2,356.1 205,358.1 Q198.8,360.2 205,362.2 Q211.2,364.3 205,366.4 Q198.8,368.4 205,370.5" fill="none" stroke="#9a6530" stroke-width="1.9" stroke-linejoin="round"/><path d="M201.7,370.5 L205,372.3 L208.3,370.5 L205,380 Z" fill="#9a6530"/>
<path d="M214.7,284.5 A9,9 0 0 0 198.8,279.3" fill="none" stroke="#e8612a" stroke-width="2.2"/><path d="M196.7,285.7 A9,9 0 0 0 212.6,290.9" fill="none" stroke="#e8612a" stroke-width="2.2"/><path d="M195.2,283.1 L198.3,274.7 L202.3,280.8 Z" fill="#e8612a"/><path d="M215.6,286.8 L213.5,295.0 L209.5,290.5 Z" fill="#e8612a"/>
<rect x="2" y="322" width="103" height="67.5" fill="#ffffff"/>
<rect x="105" y="353" width="46" height="36.5" fill="#ffffff"/>
<ellipse cx="10.3" cy="330" rx="2.8" ry="5" transform="rotate(-50 10.3 330)" fill="#13207a"/>
<ellipse cx="20.3" cy="331.7" rx="2" ry="5" transform="rotate(15 20.3 331.7)" fill="#13207a"/>
<g transform="translate(26.3,335.5) scale(0.68,1)"><text x="0" y="0" font-size="12.5" font-weight="bold" fill="#231815" stroke="#231815" stroke-width="0.35" textLength="103.97" lengthAdjust="spacing">Detrital minerals</text></g>
<g transform="translate(26.3,356) scale(0.68,1)"><text x="0" y="0" font-size="12.5" font-weight="bold" fill="#231815" stroke="#231815" stroke-width="0.35" textLength="99.56" lengthAdjust="spacing">Fe-redox cycling</text></g>
<g transform="translate(26.3,382) scale(0.68,1)"><text x="0" y="0" font-size="12.5" font-weight="bold" fill="#231815" stroke="#231815" stroke-width="0.35" textLength="114.26" lengthAdjust="spacing">Redox fluctuations</text></g>
<g transform="translate(123,375.5) scale(0.68,1)"><text x="0" y="0" font-size="12.5" font-weight="bold" fill="#231815" stroke="#231815" stroke-width="0.35" textLength="38.24" lengthAdjust="spacing">Burial</text></g>
<path d="M20.9,352.0 A6.3,6.3 0 0 0 9.8,348.4" fill="none" stroke="#e8612a" stroke-width="1.9"/><path d="M8.3,352.8 A6.3,6.3 0 0 0 19.4,356.4" fill="none" stroke="#e8612a" stroke-width="1.9"/><path d="M7.2,351.0 L9.4,345.1 L12.2,349.4 Z" fill="#e8612a"/><path d="M21.5,353.6 L20.1,359.3 L17.3,356.2 Z" fill="#e8612a"/>
<line x1="6" y1="376.8" x2="24" y2="376.8" stroke="#7b45c0" stroke-width="1.2" stroke-dasharray="2.6,2.4"/>
<line x1="12.9" y1="372" x2="12.9" y2="387.6" stroke="#3aa84a" stroke-width="1.8"/><path d="M12.9,366.5 L15.6,373.5 L12.9,372.3 L10.2,373.5 Z" fill="#3aa84a"/>
<line x1="18.6" y1="366" x2="18.6" y2="381.5" stroke="#d02849" stroke-width="1.8"/><path d="M18.6,387.3 L21.3,380.3 L18.6,381.5 L15.9,380.3 Z" fill="#d02849"/>
<path d="M116,358 V362.0 Q121.5,363.4 116,364.9 Q110.5,366.3 116,367.8 Q121.5,369.2 116,370.6 Q110.5,372.1 116,373.5" fill="none" stroke="#9a6530" stroke-width="1.7" stroke-linejoin="round"/><path d="M112.7,373.5 L116,375.3 L119.3,373.5 L116,383 Z" fill="#9a6530"/>
<filter id="blur" x="-20%" y="-20%" width="140%" height="140%"><feGaussianBlur stdDeviation="2"/></filter>
<filter id="blur1" x="-20%" y="-20%" width="140%" height="140%"><feGaussianBlur stdDeviation="1.2"/></filter>
<g transform="translate(1.5,2.5)" filter="url(#blur)" opacity="0.55"><path d="M464,385.3 H474.5" fill="none" stroke="#000" stroke-width="5.96" stroke-linecap="square"/><path d="M469.3,377 V403.5" fill="none" stroke="#000" stroke-width="6.40" stroke-linecap="square"/><path d="M464.5,405 L474.5,401.5" fill="none" stroke="#000" stroke-width="5.96" stroke-linecap="square"/><path d="M476.5,382 H493 V396.5 H489" fill="none" stroke="#000" stroke-width="5.96" stroke-linecap="square"/><path d="M483,376 V400" fill="none" stroke="#000" stroke-width="5.96" stroke-linecap="square"/><path d="M477,379.5 V406 H495.5 V399" fill="none" stroke="#000" stroke-width="5.96" stroke-linecap="square"/><path d="M537,376 V380" fill="none" stroke="#000" stroke-width="5.30" stroke-linecap="square"/><path d="M533,381.2 H547" fill="none" stroke="#000" stroke-width="5.74" stroke-linecap="square"/><path d="M535.5,383.8 L536.5,387" fill="none" stroke="#000" stroke-width="4.64" stroke-linecap="square"/><path d="M544.5,383.8 L543.5,387" fill="none" stroke="#000" stroke-width="4.64" stroke-linecap="square"/><path d="M532,389.2 H548" fill="none" stroke="#000" stroke-width="5.74" stroke-linecap="square"/><path d="M533,395 H547" fill="none" stroke="#000" stroke-width="5.30" stroke-linecap="square"/><path d="M540,389 V408" fill="none" stroke="#000" stroke-width="5.96" stroke-linecap="square"/><path d="M536.3,398.5 L533,405" fill="none" stroke="#000" stroke-width="5.30" stroke-linecap="square"/><path d="M543.5,398.5 L547,404" fill="none" stroke="#000" stroke-width="5.30" stroke-linecap="square"/><path d="M564.5,377 L551,380.5" fill="none" stroke="#000" stroke-width="5.96" stroke-linecap="square"/><path d="M551.3,380 V398 Q551.3,404 548.5,408" fill="none" stroke="#000" stroke-width="6.18" stroke-linecap="square"/><path d="M551,390.3 H566.5" fill="none" stroke="#000" stroke-width="5.96" stroke-linecap="square"/><path d="M560.5,390 V408" fill="none" stroke="#000" stroke-width="6.18" stroke-linecap="square"/><path d="M574,376.8 L577.8,380.8" fill="none" stroke="#000" stroke-width="5.96" stroke-linecap="square"/><path d="M569,379 V408" fill="none" stroke="#000" stroke-width="7.50" stroke-linecap="square"/><path d="M580,381.2 H595.3 V404.5 Q595.3,406.8 592,406.8 H589" fill="none" stroke="#000" stroke-width="6.62" stroke-linecap="square"/><path d="M573.5,386.6 H589" fill="none" stroke="#000" stroke-width="5.74" stroke-linecap="square"/><path d="M575.6,386.6 V403" fill="none" stroke="#000" stroke-width="5.74" stroke-linecap="square"/><path d="M585.6,386.6 V403" fill="none" stroke="#000" stroke-width="5.74" stroke-linecap="square"/><path d="M575.6,392.2 H585.6" fill="none" stroke="#000" stroke-width="4.86" stroke-linecap="square"/><path d="M575.6,397.6 H585.6" fill="none" stroke="#000" stroke-width="4.86" stroke-linecap="square"/><path d="M572.5,404.2 H590" fill="none" stroke="#000" stroke-width="5.52" stroke-linecap="square"/><path d="M602,378 V408" fill="none" stroke="#000" stroke-width="7.72" stroke-linecap="square"/><path d="M599.5,380.5 H629.6" fill="none" stroke="#000" stroke-width="7.50" stroke-linecap="square"/><path d="M627.2,378 V404.5 Q627.2,407 624,407 H620.5" fill="none" stroke="#000" stroke-width="7.50" stroke-linecap="square"/><path d="M607.3,385 L613.6,402.5" fill="none" stroke="#000" stroke-width="6.18" stroke-linecap="square"/><path d="M613.3,385 L607,404" fill="none" stroke="#000" stroke-width="6.18" stroke-linecap="square"/><path d="M616.3,385 L623,402.5" fill="none" stroke="#000" stroke-width="6.18" stroke-linecap="square"/><path d="M623,385 L616.5,404" fill="none" stroke="#000" stroke-width="6.18" stroke-linecap="square"/><path d="M508.5,376 H517 V385 H508.5 Z" fill="#000" stroke="#000" stroke-width="2" stroke-linejoin="miter"/><path d="M498.7,383.6 H528.8 V387.8 H498.7 Z" fill="#000" stroke="#000" stroke-width="2" stroke-linejoin="miter"/><path d="M507.5,387 L516,387 L508.6,408.5 L498.6,408.5 Z" fill="#000" stroke="#000" stroke-width="2" stroke-linejoin="miter"/><path d="M513.5,387 L520.5,387 L529.2,407 L519.8,407 Z" fill="#000" stroke="#000" stroke-width="2" stroke-linejoin="miter"/></g>
<g transform="translate(-0.8,1.0)" filter="url(#blur1)"><path d="M464,385.3 H474.5" fill="none" stroke="#5a5a5a" stroke-width="5.16" stroke-linecap="square"/><path d="M469.3,377 V403.5" fill="none" stroke="#5a5a5a" stroke-width="5.60" stroke-linecap="square"/><path d="M464.5,405 L474.5,401.5" fill="none" stroke="#5a5a5a" stroke-width="5.16" stroke-linecap="square"/><path d="M476.5,382 H493 V396.5 H489" fill="none" stroke="#5a5a5a" stroke-width="5.16" stroke-linecap="square"/><path d="M483,376 V400" fill="none" stroke="#5a5a5a" stroke-width="5.16" stroke-linecap="square"/><path d="M477,379.5 V406 H495.5 V399" fill="none" stroke="#5a5a5a" stroke-width="5.16" stroke-linecap="square"/><path d="M537,376 V380" fill="none" stroke="#5a5a5a" stroke-width="4.50" stroke-linecap="square"/><path d="M533,381.2 H547" fill="none" stroke="#5a5a5a" stroke-width="4.94" stroke-linecap="square"/><path d="M535.5,383.8 L536.5,387" fill="none" stroke="#5a5a5a" stroke-width="3.84" stroke-linecap="square"/><path d="M544.5,383.8 L543.5,387" fill="none" stroke="#5a5a5a" stroke-width="3.84" stroke-linecap="square"/><path d="M532,389.2 H548" fill="none" stroke="#5a5a5a" stroke-width="4.94" stroke-linecap="square"/><path d="M533,395 H547" fill="none" stroke="#5a5a5a" stroke-width="4.50" stroke-linecap="square"/><path d="M540,389 V408" fill="none" stroke="#5a5a5a" stroke-width="5.16" stroke-linecap="square"/><path d="M536.3,398.5 L533,405" fill="none" stroke="#5a5a5a" stroke-width="4.50" stroke-linecap="square"/><path d="M543.5,398.5 L547,404" fill="none" stroke="#5a5a5a" stroke-width="4.50" stroke-linecap="square"/><path d="M564.5,377 L551,380.5" fill="none" stroke="#5a5a5a" stroke-width="5.16" stroke-linecap="square"/><path d="M551.3,380 V398 Q551.3,404 548.5,408" fill="none" stroke="#5a5a5a" stroke-width="5.38" stroke-linecap="square"/><path d="M551,390.3 H566.5" fill="none" stroke="#5a5a5a" stroke-width="5.16" stroke-linecap="square"/><path d="M560.5,390 V408" fill="none" stroke="#5a5a5a" stroke-width="5.38" stroke-linecap="square"/><path d="M574,376.8 L577.8,380.8" fill="none" stroke="#5a5a5a" stroke-width="5.16" stroke-linecap="square"/><path d="M569,379 V408" fill="none" stroke="#5a5a5a" stroke-width="6.70" stroke-linecap="square"/><path d="M580,381.2 H595.3 V404.5 Q595.3,406.8 592,406.8 H589" fill="none" stroke="#5a5a5a" stroke-width="5.82" stroke-linecap="square"/><path d="M573.5,386.6 H589" fill="none" stroke="#5a5a5a" stroke-width="4.94" stroke-linecap="square"/><path d="M575.6,386.6 V403" fill="none" stroke="#5a5a5a" stroke-width="4.94" stroke-linecap="square"/><path d="M585.6,386.6 V403" fill="none" stroke="#5a5a5a" stroke-width="4.94" stroke-linecap="square"/><path d="M575.6,392.2 H585.6" fill="none" stroke="#5a5a5a" stroke-width="4.06" stroke-linecap="square"/><path d="M575.6,397.6 H585.6" fill="none" stroke="#5a5a5a" stroke-width="4.06" stroke-linecap="square"/><path d="M572.5,404.2 H590" fill="none" stroke="#5a5a5a" stroke-width="4.72" stroke-linecap="square"/><path d="M602,378 V408" fill="none" stroke="#5a5a5a" stroke-width="6.92" stroke-linecap="square"/><path d="M599.5,380.5 H629.6" fill="none" stroke="#5a5a5a" stroke-width="6.70" stroke-linecap="square"/><path d="M627.2,378 V404.5 Q627.2,407 624,407 H620.5" fill="none" stroke="#5a5a5a" stroke-width="6.70" stroke-linecap="square"/><path d="M607.3,385 L613.6,402.5" fill="none" stroke="#5a5a5a" stroke-width="5.38" stroke-linecap="square"/><path d="M613.3,385 L607,404" fill="none" stroke="#5a5a5a" stroke-width="5.38" stroke-linecap="square"/><path d="M616.3,385 L623,402.5" fill="none" stroke="#5a5a5a" stroke-width="5.38" stroke-linecap="square"/><path d="M623,385 L616.5,404" fill="none" stroke="#5a5a5a" stroke-width="5.38" stroke-linecap="square"/><path d="M508.5,376 H517 V385 H508.5 Z" fill="#5a5a5a" stroke="#5a5a5a" stroke-width="1.2" stroke-linejoin="miter"/><path d="M498.7,383.6 H528.8 V387.8 H498.7 Z" fill="#5a5a5a" stroke="#5a5a5a" stroke-width="1.2" stroke-linejoin="miter"/><path d="M507.5,387 L516,387 L508.6,408.5 L498.6,408.5 Z" fill="#5a5a5a" stroke="#5a5a5a" stroke-width="1.2" stroke-linejoin="miter"/><path d="M513.5,387 L520.5,387 L529.2,407 L519.8,407 Z" fill="#5a5a5a" stroke="#5a5a5a" stroke-width="1.2" stroke-linejoin="miter"/></g>
<g transform="translate(0,0)" ><path d="M464,385.3 H474.5" fill="none" stroke="#8a8a8a" stroke-width="5.16" stroke-linecap="square"/><path d="M469.3,377 V403.5" fill="none" stroke="#8a8a8a" stroke-width="5.60" stroke-linecap="square"/><path d="M464.5,405 L474.5,401.5" fill="none" stroke="#8a8a8a" stroke-width="5.16" stroke-linecap="square"/><path d="M476.5,382 H493 V396.5 H489" fill="none" stroke="#8a8a8a" stroke-width="5.16" stroke-linecap="square"/><path d="M483,376 V400" fill="none" stroke="#8a8a8a" stroke-width="5.16" stroke-linecap="square"/><path d="M477,379.5 V406 H495.5 V399" fill="none" stroke="#8a8a8a" stroke-width="5.16" stroke-linecap="square"/><path d="M537,376 V380" fill="none" stroke="#8a8a8a" stroke-width="4.50" stroke-linecap="square"/><path d="M533,381.2 H547" fill="none" stroke="#8a8a8a" stroke-width="4.94" stroke-linecap="square"/><path d="M535.5,383.8 L536.5,387" fill="none" stroke="#8a8a8a" stroke-width="3.84" stroke-linecap="square"/><path d="M544.5,383.8 L543.5,387" fill="none" stroke="#8a8a8a" stroke-width="3.84" stroke-linecap="square"/><path d="M532,389.2 H548" fill="none" stroke="#8a8a8a" stroke-width="4.94" stroke-linecap="square"/><path d="M533,395 H547" fill="none" stroke="#8a8a8a" stroke-width="4.50" stroke-linecap="square"/><path d="M540,389 V408" fill="none" stroke="#8a8a8a" stroke-width="5.16" stroke-linecap="square"/><path d="M536.3,398.5 L533,405" fill="none" stroke="#8a8a8a" stroke-width="4.50" stroke-linecap="square"/><path d="M543.5,398.5 L547,404" fill="none" stroke="#8a8a8a" stroke-width="4.50" stroke-linecap="square"/><path d="M564.5,377 L551,380.5" fill="none" stroke="#8a8a8a" stroke-width="5.16" stroke-linecap="square"/><path d="M551.3,380 V398 Q551.3,404 548.5,408" fill="none" stroke="#8a8a8a" stroke-width="5.38" stroke-linecap="square"/><path d="M551,390.3 H566.5" fill="none" stroke="#8a8a8a" stroke-width="5.16" stroke-linecap="square"/><path d="M560.5,390 V408" fill="none" stroke="#8a8a8a" stroke-width="5.38" stroke-linecap="square"/><path d="M574,376.8 L577.8,380.8" fill="none" stroke="#8a8a8a" stroke-width="5.16" stroke-linecap="square"/><path d="M569,379 V408" fill="none" stroke="#8a8a8a" stroke-width="6.70" stroke-linecap="square"/><path d="M580,381.2 H595.3 V404.5 Q595.3,406.8 592,406.8 H589" fill="none" stroke="#8a8a8a" stroke-width="5.82" stroke-linecap="square"/><path d="M573.5,386.6 H589" fill="none" stroke="#8a8a8a" stroke-width="4.94" stroke-linecap="square"/><path d="M575.6,386.6 V403" fill="none" stroke="#8a8a8a" stroke-width="4.94" stroke-linecap="square"/><path d="M585.6,386.6 V403" fill="none" stroke="#8a8a8a" stroke-width="4.94" stroke-linecap="square"/><path d="M575.6,392.2 H585.6" fill="none" stroke="#8a8a8a" stroke-width="4.06" stroke-linecap="square"/><path d="M575.6,397.6 H585.6" fill="none" stroke="#8a8a8a" stroke-width="4.06" stroke-linecap="square"/><path d="M572.5,404.2 H590" fill="none" stroke="#8a8a8a" stroke-width="4.72" stroke-linecap="square"/><path d="M602,378 V408" fill="none" stroke="#8a8a8a" stroke-width="6.92" stroke-linecap="square"/><path d="M599.5,380.5 H629.6" fill="none" stroke="#8a8a8a" stroke-width="6.70" stroke-linecap="square"/><path d="M627.2,378 V404.5 Q627.2,407 624,407 H620.5" fill="none" stroke="#8a8a8a" stroke-width="6.70" stroke-linecap="square"/><path d="M607.3,385 L613.6,402.5" fill="none" stroke="#8a8a8a" stroke-width="5.38" stroke-linecap="square"/><path d="M613.3,385 L607,404" fill="none" stroke="#8a8a8a" stroke-width="5.38" stroke-linecap="square"/><path d="M616.3,385 L623,402.5" fill="none" stroke="#8a8a8a" stroke-width="5.38" stroke-linecap="square"/><path d="M623,385 L616.5,404" fill="none" stroke="#8a8a8a" stroke-width="5.38" stroke-linecap="square"/><path d="M508.5,376 H517 V385 H508.5 Z" fill="#8a8a8a" stroke="#8a8a8a" stroke-width="1.2" stroke-linejoin="miter"/><path d="M498.7,383.6 H528.8 V387.8 H498.7 Z" fill="#8a8a8a" stroke="#8a8a8a" stroke-width="1.2" stroke-linejoin="miter"/><path d="M507.5,387 L516,387 L508.6,408.5 L498.6,408.5 Z" fill="#8a8a8a" stroke="#8a8a8a" stroke-width="1.2" stroke-linejoin="miter"/><path d="M513.5,387 L520.5,387 L529.2,407 L519.8,407 Z" fill="#8a8a8a" stroke="#8a8a8a" stroke-width="1.2" stroke-linejoin="miter"/></g>
<g transform="translate(0,0)" ><path d="M464,385.3 H474.5" fill="none" stroke="#f5f5f5" stroke-width="3.96" stroke-linecap="square"/><path d="M469.3,377 V403.5" fill="none" stroke="#f5f5f5" stroke-width="4.40" stroke-linecap="square"/><path d="M464.5,405 L474.5,401.5" fill="none" stroke="#f5f5f5" stroke-width="3.96" stroke-linecap="square"/><path d="M476.5,382 H493 V396.5 H489" fill="none" stroke="#f5f5f5" stroke-width="3.96" stroke-linecap="square"/><path d="M483,376 V400" fill="none" stroke="#f5f5f5" stroke-width="3.96" stroke-linecap="square"/><path d="M477,379.5 V406 H495.5 V399" fill="none" stroke="#f5f5f5" stroke-width="3.96" stroke-linecap="square"/><path d="M537,376 V380" fill="none" stroke="#f5f5f5" stroke-width="3.30" stroke-linecap="square"/><path d="M533,381.2 H547" fill="none" stroke="#f5f5f5" stroke-width="3.74" stroke-linecap="square"/><path d="M535.5,383.8 L536.5,387" fill="none" stroke="#f5f5f5" stroke-width="2.64" stroke-linecap="square"/><path d="M544.5,383.8 L543.5,387" fill="none" stroke="#f5f5f5" stroke-width="2.64" stroke-linecap="square"/><path d="M532,389.2 H548" fill="none" stroke="#f5f5f5" stroke-width="3.74" stroke-linecap="square"/><path d="M533,395 H547" fill="none" stroke="#f5f5f5" stroke-width="3.30" stroke-linecap="square"/><path d="M540,389 V408" fill="none" stroke="#f5f5f5" stroke-width="3.96" stroke-linecap="square"/><path d="M536.3,398.5 L533,405" fill="none" stroke="#f5f5f5" stroke-width="3.30" stroke-linecap="square"/><path d="M543.5,398.5 L547,404" fill="none" stroke="#f5f5f5" stroke-width="3.30" stroke-linecap="square"/><path d="M564.5,377 L551,380.5" fill="none" stroke="#f5f5f5" stroke-width="3.96" stroke-linecap="square"/><path d="M551.3,380 V398 Q551.3,404 548.5,408" fill="none" stroke="#f5f5f5" stroke-width="4.18" stroke-linecap="square"/><path d="M551,390.3 H566.5" fill="none" stroke="#f5f5f5" stroke-width="3.96" stroke-linecap="square"/><path d="M560.5,390 V408" fill="none" stroke="#f5f5f5" stroke-width="4.18" stroke-linecap="square"/><path d="M574,376.8 L577.8,380.8" fill="none" stroke="#f5f5f5" stroke-width="3.96" stroke-linecap="square"/><path d="M569,379 V408" fill="none" stroke="#f5f5f5" stroke-width="5.50" stroke-linecap="square"/><path d="M580,381.2 H595.3 V404.5 Q595.3,406.8 592,406.8 H589" fill="none" stroke="#f5f5f5" stroke-width="4.62" stroke-linecap="square"/><path d="M573.5,386.6 H589" fill="none" stroke="#f5f5f5" stroke-width="3.74" stroke-linecap="square"/><path d="M575.6,386.6 V403" fill="none" stroke="#f5f5f5" stroke-width="3.74" stroke-linecap="square"/><path d="M585.6,386.6 V403" fill="none" stroke="#f5f5f5" stroke-width="3.74" stroke-linecap="square"/><path d="M575.6,392.2 H585.6" fill="none" stroke="#f5f5f5" stroke-width="2.86" stroke-linecap="square"/><path d="M575.6,397.6 H585.6" fill="none" stroke="#f5f5f5" stroke-width="2.86" stroke-linecap="square"/><path d="M572.5,404.2 H590" fill="none" stroke="#f5f5f5" stroke-width="3.52" stroke-linecap="square"/><path d="M602,378 V408" fill="none" stroke="#f5f5f5" stroke-width="5.72" stroke-linecap="square"/><path d="M599.5,380.5 H629.6" fill="none" stroke="#f5f5f5" stroke-width="5.50" stroke-linecap="square"/><path d="M627.2,378 V404.5 Q627.2,407 624,407 H620.5" fill="none" stroke="#f5f5f5" stroke-width="5.50" stroke-linecap="square"/><path d="M607.3,385 L613.6,402.5" fill="none" stroke="#f5f5f5" stroke-width="4.18" stroke-linecap="square"/><path d="M613.3,385 L607,404" fill="none" stroke="#f5f5f5" stroke-width="4.18" stroke-linecap="square"/><path d="M616.3,385 L623,402.5" fill="none" stroke="#f5f5f5" stroke-width="4.18" stroke-linecap="square"/><path d="M623,385 L616.5,404" fill="none" stroke="#f5f5f5" stroke-width="4.18" stroke-linecap="square"/><path d="M508.5,376 H517 V385 H508.5 Z" fill="#f5f5f5" stroke="#f5f5f5" stroke-width="0" stroke-linejoin="miter"/><path d="M498.7,383.6 H528.8 V387.8 H498.7 Z" fill="#f5f5f5" stroke="#f5f5f5" stroke-width="0" stroke-linejoin="miter"/><path d="M507.5,387 L516,387 L508.6,408.5 L498.6,408.5 Z" fill="#f5f5f5" stroke="#f5f5f5" stroke-width="0" stroke-linejoin="miter"/><path d="M513.5,387 L520.5,387 L529.2,407 L519.8,407 Z" fill="#f5f5f5" stroke="#f5f5f5" stroke-width="0" stroke-linejoin="miter"/></g>
<g filter="url(#blur)" opacity="0.3"><path d="M0,10 V4 A4,4 0 0 1 4,0 H5.5 A4,4 0 0 1 9.5,4 V10" transform="translate(487,416)" fill="none" stroke="#000" stroke-width="3.4" stroke-linecap="round" stroke-linejoin="round"/><path d="M0,10 V4 A4,4 0 0 1 4,0 H5.5 A4,4 0 0 1 9.5,4 V10" transform="translate(628,416)" fill="none" stroke="#000" stroke-width="3.4" stroke-linecap="round" stroke-linejoin="round"/><path d="M9.5,0 H4 A4,4 0 0 0 0,4 V6 A4,4 0 0 0 4,10 H9.5 M0.5,5 H8" transform="translate(497.8,416)" fill="none" stroke="#000" stroke-width="3.4" stroke-linecap="round" stroke-linejoin="round"/><path d="M9.5,0 H4 A4,4 0 0 0 0,4 V6 A4,4 0 0 0 4,10 H9.5 M0.5,5 H8" transform="translate(580,416)" fill="none" stroke="#000" stroke-width="3.4" stroke-linecap="round" stroke-linejoin="round"/><path d="M0,0 V6 A4,4 0 0 0 4,10 H11 A4,4 0 0 0 15,6 V0 M7.5,3 V10" transform="translate(509,416)" fill="none" stroke="#000" stroke-width="3.4" stroke-linecap="round" stroke-linejoin="round"/><path d="M9.5,0 H3 A2.5,2.5 0 0 0 3,5 H6.5 A2.5,2.5 0 0 1 6.5,10 H0" transform="translate(525.3,416)" fill="none" stroke="#000" stroke-width="3.4" stroke-linecap="round" stroke-linejoin="round"/><path d="M1,9.5 H1.5" transform="translate(537.5,416)" fill="none" stroke="#000" stroke-width="3.4" stroke-linecap="round" stroke-linejoin="round"/><path d="M1,9.5 H1.5" transform="translate(576.5,416)" fill="none" stroke="#000" stroke-width="3.4" stroke-linecap="round" stroke-linejoin="round"/><path d="M1,9.5 H1.5" transform="translate(614,416)" fill="none" stroke="#000" stroke-width="3.4" stroke-linecap="round" stroke-linejoin="round"/><path d="M9.5,0 H4 A4,4 0 0 0 0,4 V6 A4,4 0 0 0 4,10 H9.5" transform="translate(542.8,416)" fill="none" stroke="#000" stroke-width="3.4" stroke-linecap="round" stroke-linejoin="round"/><path d="M9.5,0 H4 A4,4 0 0 0 0,4 V6 A4,4 0 0 0 4,10 H9.5" transform="translate(617,416)" fill="none" stroke="#000" stroke-width="3.4" stroke-linecap="round" stroke-linejoin="round"/><path d="M0,0 V6 A4,4 0 0 0 4,10 H5.5 A4,4 0 0 0 9.5,6 V0" transform="translate(554,416)" fill="none" stroke="#000" stroke-width="3.4" stroke-linecap="round" stroke-linejoin="round"/><path d="M0,0 V6 A4,4 0 0 0 4,10 H5.5 A4,4 0 0 0 9.5,6 V0" transform="translate(603,416)" fill="none" stroke="#000" stroke-width="3.4" stroke-linecap="round" stroke-linejoin="round"/><path d="M9.5,0 H4 A4,4 0 0 0 0,4 V6 A4,4 0 0 0 4,10 H9.5 V5.5 H5" transform="translate(565.6,416)" fill="none" stroke="#000" stroke-width="3.4" stroke-linecap="round" stroke-linejoin="round"/><path d="M0,0 H5.5 A4,4 0 0 1 9.5,4 V6 A4,4 0 0 1 5.5,10 H0 Z" transform="translate(591.3,416)" fill="none" stroke="#000" stroke-width="3.4" stroke-linecap="round" stroke-linejoin="round"/></g>
<path d="M0,10 V4 A4,4 0 0 1 4,0 H5.5 A4,4 0 0 1 9.5,4 V10" transform="translate(487,416)" fill="none" stroke="#7a7a7a" stroke-width="3.4" stroke-linecap="round" stroke-linejoin="round"/><path d="M0,10 V4 A4,4 0 0 1 4,0 H5.5 A4,4 0 0 1 9.5,4 V10" transform="translate(628,416)" fill="none" stroke="#7a7a7a" stroke-width="3.4" stroke-linecap="round" stroke-linejoin="round"/><path d="M9.5,0 H4 A4,4 0 0 0 0,4 V6 A4,4 0 0 0 4,10 H9.5 M0.5,5 H8" transform="translate(497.8,416)" fill="none" stroke="#7a7a7a" stroke-width="3.4" stroke-linecap="round" stroke-linejoin="round"/><path d="M9.5,0 H4 A4,4 0 0 0 0,4 V6 A4,4 0 0 0 4,10 H9.5 M0.5,5 H8" transform="translate(580,416)" fill="none" stroke="#7a7a7a" stroke-width="3.4" stroke-linecap="round" stroke-linejoin="round"/><path d="M0,0 V6 A4,4 0 0 0 4,10 H11 A4,4 0 0 0 15,6 V0 M7.5,3 V10" transform="translate(509,416)" fill="none" stroke="#7a7a7a" stroke-width="3.4" stroke-linecap="round" stroke-linejoin="round"/><path d="M9.5,0 H3 A2.5,2.5 0 0 0 3,5 H6.5 A2.5,2.5 0 0 1 6.5,10 H0" transform="translate(525.3,416)" fill="none" stroke="#7a7a7a" stroke-width="3.4" stroke-linecap="round" stroke-linejoin="round"/><path d="M1,9.5 H1.5" transform="translate(537.5,416)" fill="none" stroke="#7a7a7a" stroke-width="3.4" stroke-linecap="round" stroke-linejoin="round"/><path d="M1,9.5 H1.5" transform="translate(576.5,416)" fill="none" stroke="#7a7a7a" stroke-width="3.4" stroke-linecap="round" stroke-linejoin="round"/><path d="M1,9.5 H1.5" transform="translate(614,416)" fill="none" stroke="#7a7a7a" stroke-width="3.4" stroke-linecap="round" stroke-linejoin="round"/><path d="M9.5,0 H4 A4,4 0 0 0 0,4 V6 A4,4 0 0 0 4,10 H9.5" transform="translate(542.8,416)" fill="none" stroke="#7a7a7a" stroke-width="3.4" stroke-linecap="round" stroke-linejoin="round"/><path d="M9.5,0 H4 A4,4 0 0 0 0,4 V6 A4,4 0 0 0 4,10 H9.5" transform="translate(617,416)" fill="none" stroke="#7a7a7a" stroke-width="3.4" stroke-linecap="round" stroke-linejoin="round"/><path d="M0,0 V6 A4,4 0 0 0 4,10 H5.5 A4,4 0 0 0 9.5,6 V0" transform="translate(554,416)" fill="none" stroke="#7a7a7a" stroke-width="3.4" stroke-linecap="round" stroke-linejoin="round"/><path d="M0,0 V6 A4,4 0 0 0 4,10 H5.5 A4,4 0 0 0 9.5,6 V0" transform="translate(603,416)" fill="none" stroke="#7a7a7a" stroke-width="3.4" stroke-linecap="round" stroke-linejoin="round"/><path d="M9.5,0 H4 A4,4 0 0 0 0,4 V6 A4,4 0 0 0 4,10 H9.5 V5.5 H5" transform="translate(565.6,416)" fill="none" stroke="#7a7a7a" stroke-width="3.4" stroke-linecap="round" stroke-linejoin="round"/><path d="M0,0 H5.5 A4,4 0 0 1 9.5,4 V6 A4,4 0 0 1 5.5,10 H0 Z" transform="translate(591.3,416)" fill="none" stroke="#7a7a7a" stroke-width="3.4" stroke-linecap="round" stroke-linejoin="round"/><path d="M0,10 V4 A4,4 0 0 1 4,0 H5.5 A4,4 0 0 1 9.5,4 V10" transform="translate(487,416)" fill="none" stroke="#f6f6f6" stroke-width="2.1" stroke-linecap="round" stroke-linejoin="round"/><path d="M0,10 V4 A4,4 0 0 1 4,0 H5.5 A4,4 0 0 1 9.5,4 V10" transform="translate(628,416)" fill="none" stroke="#f6f6f6" stroke-width="2.1" stroke-linecap="round" stroke-linejoin="round"/><path d="M9.5,0 H4 A4,4 0 0 0 0,4 V6 A4,4 0 0 0 4,10 H9.5 M0.5,5 H8" transform="translate(497.8,416)" fill="none" stroke="#f6f6f6" stroke-width="2.1" stroke-linecap="round" stroke-linejoin="round"/><path d="M9.5,0 H4 A4,4 0 0 0 0,4 V6 A4,4 0 0 0 4,10 H9.5 M0.5,5 H8" transform="translate(580,416)" fill="none" stroke="#f6f6f6" stroke-width="2.1" stroke-linecap="round" stroke-linejoin="round"/><path d="M0,0 V6 A4,4 0 0 0 4,10 H11 A4,4 0 0 0 15,6 V0 M7.5,3 V10" transform="translate(509,416)" fill="none" stroke="#f6f6f6" stroke-width="2.1" stroke-linecap="round" stroke-linejoin="round"/><path d="M9.5,0 H3 A2.5,2.5 0 0 0 3,5 H6.5 A2.5,2.5 0 0 1 6.5,10 H0" transform="translate(525.3,416)" fill="none" stroke="#f6f6f6" stroke-width="2.1" stroke-linecap="round" stroke-linejoin="round"/><path d="M1,9.5 H1.5" transform="translate(537.5,416)" fill="none" stroke="#f6f6f6" stroke-width="2.1" stroke-linecap="round" stroke-linejoin="round"/><path d="M1,9.5 H1.5" transform="translate(576.5,416)" fill="none" stroke="#f6f6f6" stroke-width="2.1" stroke-linecap="round" stroke-linejoin="round"/><path d="M1,9.5 H1.5" transform="translate(614,416)" fill="none" stroke="#f6f6f6" stroke-width="2.1" stroke-linecap="round" stroke-linejoin="round"/><path d="M9.5,0 H4 A4,4 0 0 0 0,4 V6 A4,4 0 0 0 4,10 H9.5" transform="translate(542.8,416)" fill="none" stroke="#f6f6f6" stroke-width="2.1" stroke-linecap="round" stroke-linejoin="round"/><path d="M9.5,0 H4 A4,4 0 0 0 0,4 V6 A4,4 0 0 0 4,10 H9.5" transform="translate(617,416)" fill="none" stroke="#f6f6f6" stroke-width="2.1" stroke-linecap="round" stroke-linejoin="round"/><path d="M0,0 V6 A4,4 0 0 0 4,10 H5.5 A4,4 0 0 0 9.5,6 V0" transform="translate(554,416)" fill="none" stroke="#f6f6f6" stroke-width="2.1" stroke-linecap="round" stroke-linejoin="round"/><path d="M0,0 V6 A4,4 0 0 0 4,10 H5.5 A4,4 0 0 0 9.5,6 V0" transform="translate(603,416)" fill="none" stroke="#f6f6f6" stroke-width="2.1" stroke-linecap="round" stroke-linejoin="round"/><path d="M9.5,0 H4 A4,4 0 0 0 0,4 V6 A4,4 0 0 0 4,10 H9.5 V5.5 H5" transform="translate(565.6,416)" fill="none" stroke="#f6f6f6" stroke-width="2.1" stroke-linecap="round" stroke-linejoin="round"/><path d="M0,0 H5.5 A4,4 0 0 1 9.5,4 V6 A4,4 0 0 1 5.5,10 H0 Z" transform="translate(591.3,416)" fill="none" stroke="#f6f6f6" stroke-width="2.1" stroke-linecap="round" stroke-linejoin="round"/></svg></body></html>
